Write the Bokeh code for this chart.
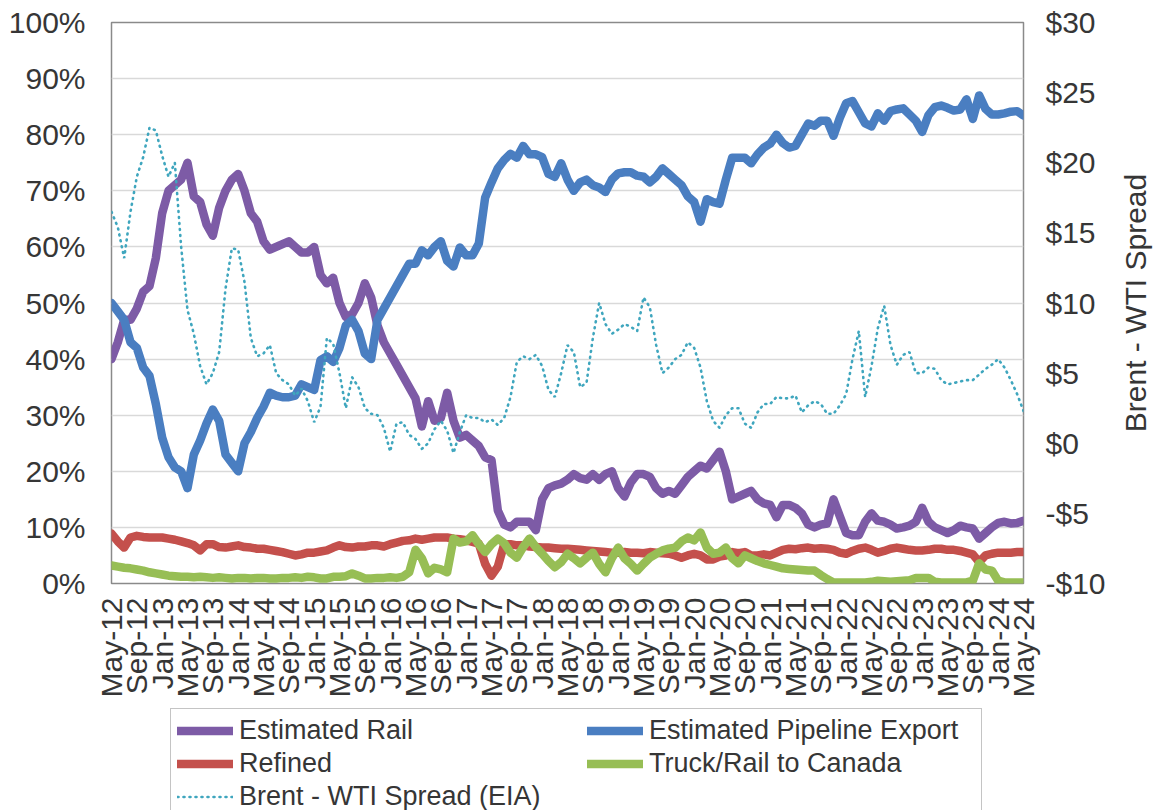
import math
from bokeh.plotting import figure
from bokeh.layouts import column, row
from bokeh.models import Range1d, LinearAxis, FixedTicker, Legend, LegendItem, Label
from bokeh.embed import file_html
from bokeh.resources import INLINE

# ---------------- data (monthly, May-12 .. May-24) ----------------
tick_labels = ["May-12", "Sep-12", "Jan-13", "May-13", "Sep-13", "Jan-14", "May-14", "Sep-14",
               "Jan-15", "May-15", "Sep-15", "Jan-16", "May-16", "Sep-16", "Jan-17", "May-17",
               "Sep-17", "Jan-18", "May-18", "Sep-18", "Jan-19", "May-19", "Sep-19", "Jan-20",
               "May-20", "Sep-20", "Jan-21", "May-21", "Sep-21", "Jan-22", "May-22", "Sep-22",
               "Jan-23", "May-23", "Sep-23", "Jan-24", "May-24"]

rail = [40, 43, 47, 47, 49, 52, 53, 58, 66, 70,
        71, 72, 75, 69, 68, 64, 62, 67, 70, 72,
        73, 70, 66, 64.5, 61, 59.5, 60, 60.5, 61, 60,
        59, 59, 60, 55, 53.5, 54.5, 50, 47.5, 48, 50,
        53.5, 51, 46, 43, 41, 39, 37, 35, 33, 28,
        32.5, 29, 29.5, 34, 29, 26, 26.5, 25.5, 24.5, 22.5,
        22, 13, 10.5, 10, 11, 11, 11, 9.5, 15, 17,
        17.5, 17.8, 18.5, 19.5, 18.8, 18.5, 19.5, 18.5, 19.5, 20,
        17, 15.5, 18, 19.5, 19.5, 19, 17, 16, 16.5, 16,
        17.5, 19, 20, 21, 20.5, 22, 23.5, 20, 15, 15.5,
        16, 16.5, 15, 14.3, 14, 11.8, 14, 14, 13.5, 12.5,
        10.5, 10, 10.5, 10.7, 15, 12, 9, 8.6, 8.6, 11,
        12.5, 11.2, 11, 10.5, 9.8, 10, 10.3, 11, 13.5, 11,
        10, 9.5, 9, 9.5, 10.3, 10, 9.8, 8, 9, 10,
        10.8, 11, 10.7, 10.8, 11.2]

pipeline = [50, 48.5, 47, 43, 42, 38.5, 37, 32, 26, 22.5,
            20.7, 20, 17, 23, 25.5, 28.5, 31, 29, 23, 21.5,
            20, 25, 27, 29.5, 31.5, 34, 33.5, 33.2, 33.2, 33.5,
            35.5, 35, 34.5, 39.8, 40.5, 39.5, 42, 46, 47, 45,
            41, 40, 47, 49, 51, 53, 55, 57, 57, 59.4,
            58.5, 60, 61, 57.5, 56.5, 59.9, 58.5, 58.5, 60.6, 68.8,
            71.5, 74, 75.5, 76.6, 75.9, 78, 76.5, 76.5, 76, 73,
            72.5, 74.9, 72, 70, 71.5, 72, 71, 70.6, 69.8, 72,
            73.1, 73.3, 73.3, 72.7, 72.5, 71.5, 72.5, 74, 73, 72,
            71, 69, 68, 64.5, 68.5, 68, 67.7, 72, 75.9, 75.9,
            75.9, 74.9, 76.5, 77.7, 78.4, 80, 78.5, 77.7, 78, 80,
            82, 81.6, 82.5, 82.5, 79.8, 83, 85.6, 86, 84, 82,
            81.5, 83.8, 82.5, 84.2, 84.5, 84.7, 83.6, 82.5, 80.5, 83.5,
            84.9, 85.2, 84.8, 84.3, 84.5, 86.3, 82.8, 87, 84.6, 83.6,
            83.6, 83.8, 84.1, 84.2, 83.4]

refined = [8.9, 7.5, 6.4, 8.2, 8.5, 8.3, 8.2, 8.2, 8.2, 8.0,
           7.8, 7.5, 7.2, 6.8, 5.9, 7.0, 7.0, 6.5, 6.4, 6.6,
           6.8, 6.5, 6.4, 6.2, 6.2, 6.0, 5.8, 5.6, 5.3, 5.0,
           5.2, 5.5, 5.5, 5.7, 5.9, 6.4, 6.8, 6.5, 6.4, 6.6,
           6.6, 6.8, 6.8, 6.6, 7.0, 7.3, 7.6, 7.7, 8.0, 7.8,
           8.0, 8.2, 8.2, 8.2, 8.0, 7.9, 7.7, 7.4, 7.1, 3.5,
           1.4, 3.0, 7.0, 7.0, 6.8, 6.8, 6.6, 6.5, 6.4, 6.4,
           6.3, 6.2, 6.2, 6.1, 6.0, 5.9, 5.8, 5.7, 5.6, 5.5,
           5.5, 5.6, 5.5, 5.5, 5.4, 5.6, 5.5, 5.4, 5.3, 5.0,
           4.6, 5.0, 5.3, 5.0, 4.3, 4.3, 4.8, 5.0, 5.6, 5.4,
           5.6, 5.0, 5.0, 5.2, 5.0, 5.5, 6.0, 6.2, 6.1, 6.3,
           6.4, 6.2, 6.3, 6.2, 6.0, 5.5, 5.3, 5.8, 6.2, 6.4,
           6.0, 5.5, 5.8, 6.2, 6.4, 6.2, 6.0, 5.9, 5.9, 6.0,
           6.2, 6.2, 6.0, 6.0, 5.8, 5.5, 5.2, 3.8, 5.0, 5.3,
           5.5, 5.5, 5.5, 5.6, 5.6]

truck_rail_canada = [3.2, 3.0, 2.8, 2.7, 2.5, 2.3, 2.0, 1.8, 1.6, 1.4,
                     1.3, 1.2, 1.2, 1.1, 1.2, 1.1, 1.0, 1.1, 1.0, 0.9,
                     1.0, 1.0, 0.9, 1.0, 1.0, 0.9, 0.9, 1.0, 1.0, 1.1,
                     1.0, 1.2, 1.1, 0.9, 0.9, 1.2, 1.2, 1.3, 1.8, 1.4,
                     0.9, 0.9, 1.0, 1.0, 1.1, 1.0, 1.2, 2.0, 6.0, 4.5,
                     1.8, 2.8, 2.5, 2.0, 8.0, 7.3, 7.5, 8.6, 7.0, 5.6,
                     7.0, 8.0, 7.2, 5.5, 4.6, 6.5, 8.0, 6.5, 5.3, 4.0,
                     2.9, 3.8, 5.3, 4.5, 3.6, 4.6, 5.5, 3.5, 2.0, 4.5,
                     6.4, 4.5, 3.5, 2.3, 3.5, 4.6, 5.3, 5.9, 6.2, 6.4,
                     7.5, 8.2, 7.7, 9.1, 6.4, 5.3, 5.5, 6.4, 4.5, 3.6,
                     5.0, 4.5, 4.0, 3.6, 3.3, 3.0, 2.7, 2.6, 2.5, 2.4,
                     2.3, 2.3, 1.5, 0.8, 0.2, 0.2, 0.2, 0.2, 0.2, 0.2,
                     0.3, 0.5, 0.4, 0.3, 0.4, 0.5, 0.6, 1.0, 1.0, 1.0,
                     0.3, 0.2, 0.2, 0.2, 0.2, 0.2, 0.5, 3.6, 2.5, 2.3,
                     0.5, 0.2, 0.2, 0.2, 0.2]

brent_wti_spread = [16.5, 15.4, 13.2, 16.5, 19.0, 20.4, 22.5, 22.3, 20.5, 19.0,
                    20.0, 14.0, 9.5, 7.8, 5.5, 4.2, 5.0, 6.5, 11.0, 13.9,
                    13.8, 11.5, 7.5, 6.2, 6.4, 7.0, 5.0, 4.5, 4.2, 3.4,
                    3.9, 3.0, 1.5, 2.6, 7.5, 7.1, 5.0, 2.5, 4.7, 4.0,
                    2.5, 2.1, 2.0, 1.1, -0.6, 1.4, 1.5, 0.6, 0.3, -0.4,
                    0.0, 1.0, 1.6, 0.9, -0.7, 0.8, 2.0, 1.8, 1.8, 1.5,
                    1.7, 1.3, 1.8, 3.3, 5.8, 6.2, 6.0, 6.3, 5.5, 3.8,
                    3.3, 5.0, 7.0, 6.5, 4.0, 4.3, 7.5, 10.0, 8.5, 7.8,
                    8.1, 8.5, 8.3, 8.0, 10.4, 9.7, 7.0, 5.0, 5.4, 6.0,
                    6.3, 7.2, 6.8, 5.4, 3.0, 1.6, 1.1, 2.0, 2.5, 2.5,
                    1.4, 1.1, 2.2, 2.8, 2.8, 3.3, 3.2, 3.2, 3.4, 2.2,
                    2.7, 3.0, 2.8, 2.1, 2.1, 2.7, 3.5, 6.0, 8.0, 3.3,
                    5.5, 8.2, 9.8, 7.0, 5.6, 6.3, 6.5, 5.0, 5.0, 5.4,
                    5.3, 4.5, 4.2, 4.3, 4.4, 4.5, 4.5, 4.9, 5.3, 5.6,
                    6.0, 5.4, 4.5, 3.5, 2.3]

pct_ticks = list(range(0, 101, 10))
pct_labels = [f"{v}%" for v in pct_ticks]
usd_ticks = list(range(-10, 31, 5))
usd_labels = ["-$10", "-$5", "$0", "$5", "$10", "$15", "$20", "$25", "$30"]
right_title = "Brent - WTI Spread"

# ---------------- styling ----------------
FONT = "Liberation Sans"
TXT = "#363636"
C_RAIL = "#7D5BA6"
C_PIPE = "#4A7EC1"
C_REF = "#C4504C"
C_TRK = "#97BE55"
C_SPR = "#3FA6BE"

MAIN_W = 1112
TITLE_W = 46
TOP_B, BOT_B = 22, 123

n_months = len(tick_labels) * 4 - 3  # 145 monthly positions

p = figure(width=MAIN_W, height=706, x_range=Range1d(0, n_months - 1), y_range=Range1d(0, 100),
           output_backend="svg", toolbar_location=None,
           min_border_left=111, min_border_right=MAIN_W - 1023,
           min_border_top=TOP_B, min_border_bottom=BOT_B)
p.extra_y_ranges = {"spread": Range1d(-10, 30)}

p.outline_line_color = "#8a8a8a"
p.outline_line_width = 1.5
p.xgrid.grid_line_color = None
p.ygrid.grid_line_color = "#d9d9d9"
p.ygrid.grid_line_width = 1.5
p.ygrid.ticker = FixedTicker(ticks=pct_ticks)

# x axis
xa = p.xaxis[0]
xa.ticker = FixedTicker(ticks=list(range(0, n_months, 4)))
xa.major_label_overrides = {i * 4: lab for i, lab in enumerate(tick_labels)}
xa.major_label_orientation = math.pi / 2
xa.major_label_standoff = 14

# left axis
ya = p.yaxis[0]
ya.ticker = FixedTicker(ticks=pct_ticks)
ya.major_label_overrides = {t: lab for t, lab in zip(pct_ticks, pct_labels)}
ya.major_label_standoff = 26

# right axis: tick labels
ra = LinearAxis(y_range_name="spread", ticker=FixedTicker(ticks=usd_ticks))
ra.major_label_overrides = {t: lab for t, lab in zip(usd_ticks, usd_labels)}
ra.major_label_standoff = 22
p.add_layout(ra, "right")

for ax in [xa, ya, ra]:
    ax.axis_line_color = None
    ax.major_tick_line_color = None
    ax.minor_tick_line_color = None
    ax.major_tick_out = 0
    ax.major_tick_in = 0
    ax.minor_tick_out = 0
    ax.major_label_text_font = FONT
    ax.major_label_text_font_size = "30px"
    ax.major_label_text_color = TXT

# ---------------- series ----------------
def xs(series):
    return list(range(len(series)))

common = dict(line_width=8.5, line_join="round", line_cap="round")
spr_style = dict(line_color=C_SPR, line_width=2.6, line_dash="1 5", line_cap="round")
p.line(xs(rail), rail, line_color=C_RAIL, **common)
p.line(xs(pipeline), pipeline, line_color=C_PIPE, **common)
p.line(xs(refined), refined, line_color=C_REF, **common)
p.line(xs(truck_rail_canada), truck_rail_canada, line_color=C_TRK, **common)
p.line(xs(brent_wti_spread), brent_wti_spread, y_range_name="spread", **spr_style)

# ---------------- right-axis title strip (reads bottom-to-top, centred on the frame) ----------------
t = figure(width=TITLE_W, height=706, x_range=Range1d(0, 1), y_range=Range1d(0, 1),
           output_backend="svg", toolbar_location=None,
           x_axis_location=None, y_axis_location=None,
           min_border_left=0, min_border_right=0, min_border_top=TOP_B, min_border_bottom=BOT_B)
t.outline_line_color = None
t.grid.grid_line_color = None
t.add_layout(Label(x=0.5, y=0.5, text=right_title, angle=math.pi / 2,
                   text_align="center", text_baseline="middle",
                   text_font=FONT, text_font_size="30px", text_color=TXT))

# ---------------- legend strip (separate figure below, frame aligned with p) ----------------
Q_H = 104
q = figure(width=MAIN_W, height=Q_H, x_range=Range1d(0, 1), y_range=Range1d(0, 1),
           output_backend="svg", toolbar_location=None,
           x_axis_location=None, y_axis_location=None, min_border=0)
q.outline_line_color = None
q.grid.grid_line_color = None

nan = float("nan")
k_rail = q.line([nan], [nan], line_color=C_RAIL, **common)
k_pipe = q.line([nan], [nan], line_color=C_PIPE, **common)
k_ref = q.line([nan], [nan], line_color=C_REF, **common)
k_trk = q.line([nan], [nan], line_color=C_TRK, **common)
k_spr = q.line([nan], [nan], **spr_style)

ROW_H, SPACING, PAD = 31, 2, 6

def style_legend(lg):
    lg.label_text_font = FONT
    lg.label_text_font_size = "27px"
    lg.label_text_color = TXT
    lg.glyph_width = 56
    lg.glyph_height = ROW_H
    lg.label_height = ROW_H
    lg.label_standoff = 6
    lg.spacing = SPACING
    lg.padding = PAD
    lg.margin = 0

def leg_height(n):
    return 2 * PAD + n * ROW_H + (n - 1) * SPACING

LEG_TOP_GAP = 4
FRAME_LEFT = 111  # q's frame is aligned with p's frame

leg1 = Legend(items=[
    LegendItem(label="Estimated Rail", renderers=[k_rail]),
    LegendItem(label="Refined", renderers=[k_ref]),
    LegendItem(label="Brent - WTI Spread (EIA)", renderers=[k_spr]),
], location=(170 - FRAME_LEFT, Q_H - LEG_TOP_GAP - leg_height(3)))
style_legend(leg1)
leg1.label_width = 736
leg1.border_line_color = "#8a8a8a"
leg1.border_line_width = 1.5

leg2 = Legend(items=[
    LegendItem(label="Estimated Pipeline Export", renderers=[k_pipe]),
    LegendItem(label="Truck/Rail to Canada", renderers=[k_trk]),
], location=(587 - FRAME_LEFT, Q_H - LEG_TOP_GAP - leg_height(2) + 7))
style_legend(leg2)
leg2.border_line_color = None
leg2.background_fill_alpha = 0

q.add_layout(leg1, "center")
q.add_layout(leg2, "center")

layout = row(column(p, q, spacing=0), t, spacing=0)
open("out.html", "w").write(file_html(layout, INLINE))
